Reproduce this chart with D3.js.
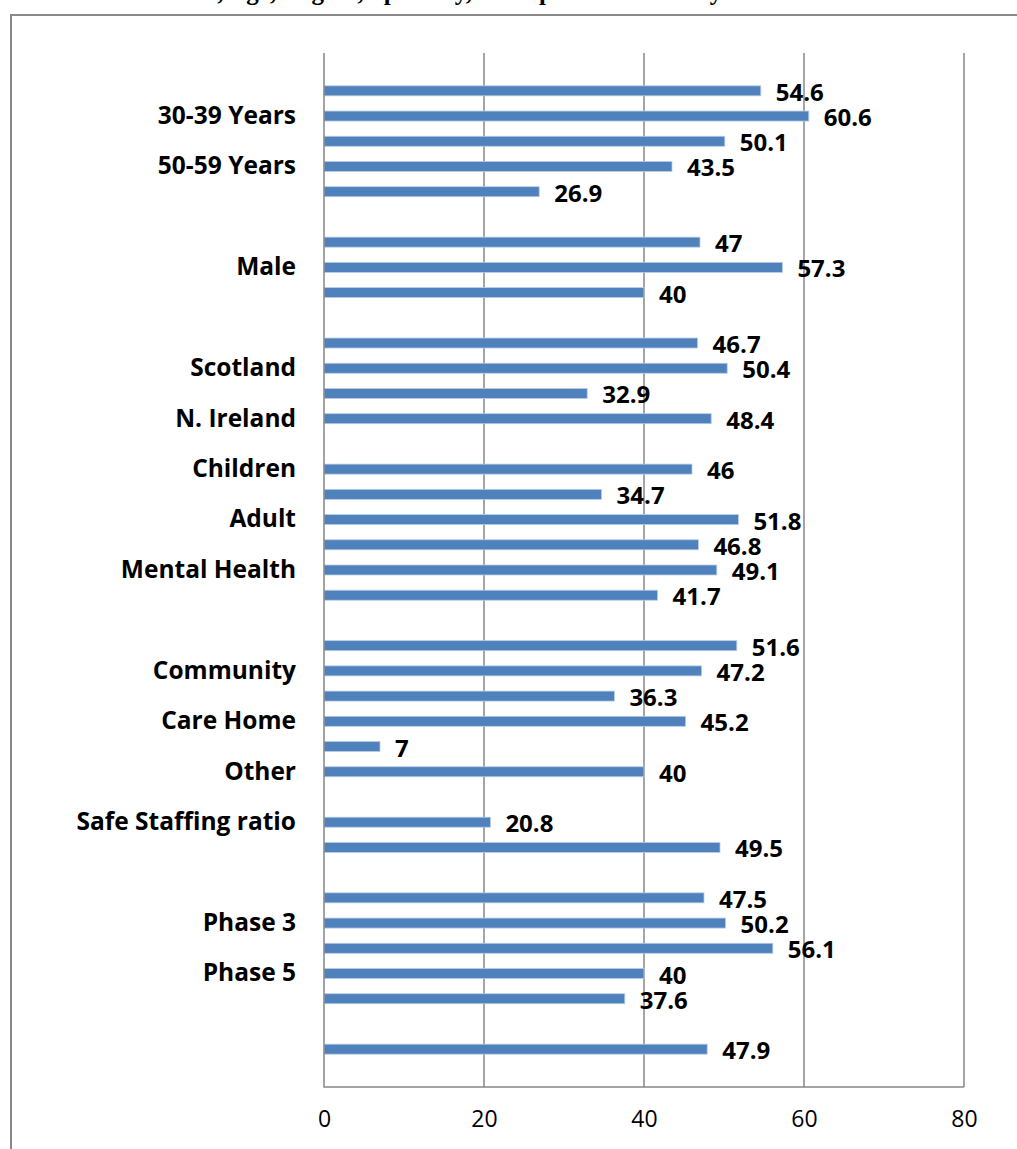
<!DOCTYPE html>
<html>
<head>
<meta charset="utf-8">
<script src="https://cdn.jsdelivr.net/npm/d3@7"></script>
<style>
	body { margin: 0; background: #fff; }
	svg { display: block; }
</style>
</head>
<body>
<svg id="chart"></svg>
<script>
// category labels, only every second one is shown on the axis
let vLabels = ['', '', '30-39 Years', '', '50-59 Years', '', '', '', 'Male', '', '',
	'', 'Scotland', '', 'N. Ireland', '', 'Children', '', 'Adult', '', 'Mental Health',
	'', '', '', 'Community', '', 'Care Home', '', 'Other ', '', 'Safe Staffing ratio',
	'', '', '', 'Phase 3', '', 'Phase 5', '', '', '', ''];
// percent values, null = empty row
let vValues = [null, 54.6, 60.6, 50.1, 43.5, 26.9, null, 47, 57.3, 40, null,
	46.7, 50.4, 32.9, 48.4, null, 46, 34.7, 51.8, 46.8, 49.1,
	41.7, null, 51.6, 47.2, 36.3, 45.2, 7, 40, null, 20.8,
	49.5, null, 47.5, 50.2, 56.1, 40, 37.6, null, 47.9, null];
let vTicks = [0, 20, 40, 60, 80];

let vWidth = 1017;
let vHeight = 1149;
let pLeft = 324, pRight = 964, pTop = 53, pBottom = 1087;
let vFont = '"Open Sans", Lato, sans-serif';

var svg = d3.select('#chart').attr('width', vWidth).attr('height', vHeight);

// title, mostly cut off by the top edge
svg.append('text')
	.attr('x', 465)
	.attr('y', 0)
	.attr('text-anchor', 'middle')
	.style('font-family', '"Liberation Serif", serif')
	.style('font-weight', 'bold')
	.style('font-size', '25px')
	.text('Gender, Age, Region, Specialty, Workplace and Survey Phase');

// outer chart border
svg.append('path')
	.attr('d', 'M11,' + vHeight + ' V15 H' + vWidth)
	.attr('fill', 'none')
	.attr('stroke', '#898989')
	.attr('stroke-width', 2);

var x = d3.scaleLinear().domain([0, 80]).range([pLeft, pRight]);
var y = d3.scaleBand().domain(d3.range(vLabels.length)).range([pTop, pBottom]);

// vertical gridlines
svg.append('g')
	.selectAll('line')
	.data(vTicks.slice(1))
	.enter()
	.append('line')
	.attr('x1', function(d) { return x(d); })
	.attr('x2', function(d) { return x(d); })
	.attr('y1', pTop)
	.attr('y2', pBottom)
	.attr('stroke', '#878787')
	.attr('stroke-width', 1.5);

var barH = 10;
var rows = vValues.map(function(v, i) { return { i: i, v: v }; })
	.filter(function(d) { return d.v !== null; });

svg.append('g')
	.selectAll('rect')
	.data(rows)
	.enter()
	.append('rect')
	.attr('x', x(0))
	.attr('y', function(d) { return y(d.i) + y.bandwidth() / 2 - barH / 2; })
	.attr('width', function(d) { return x(d.v) - x(0); })
	.attr('height', barH)
	.attr('fill', '#4f81bd')
	.attr('stroke', '#b8cce4')
	.attr('stroke-width', 0.8);

// value labels
svg.append('g')
	.selectAll('text')
	.data(rows)
	.enter()
	.append('text')
	.attr('x', function(d) { return x(d.v) + 15; })
	.attr('y', function(d) { return y(d.i) + y.bandwidth() / 2 + 10; })
	.style('font-family', vFont)
	.style('font-weight', 'bold')
	.style('font-size', '24px')
	.style('fill', '#000')
	.text(function(d) { return d.v; });

// category axis
var yAxis = d3.axisLeft(y)
	.tickSize(0)
	.tickPadding(28)
	.tickFormat(function(d) { return vLabels[d]; });
var gy = svg.append('g').attr('transform', 'translate(' + pLeft + ',0)').call(yAxis);
gy.select('.domain').remove();
gy.selectAll('text')
	.style('font-family', vFont)
	.style('font-weight', 'bold')
	.style('font-size', '24.5px')
	.style('fill', '#000');

// value axis
var xAxis = d3.axisBottom(x).tickValues(vTicks).tickSize(0).tickPadding(24);
var gx = svg.append('g').attr('transform', 'translate(0,' + pBottom + ')').call(xAxis);
gx.select('.domain').remove();
gx.selectAll('text')
	.style('font-family', vFont)
	.style('font-size', '23px')
	.style('fill', '#000');

// plot frame: left and bottom axis lines
svg.append('path')
	.attr('d', 'M' + pLeft + ',' + pTop + ' V' + pBottom + ' H' + pRight)
	.attr('fill', 'none')
	.attr('stroke', '#878787')
	.attr('stroke-width', 1.5);
</script>
</body>
</html>
